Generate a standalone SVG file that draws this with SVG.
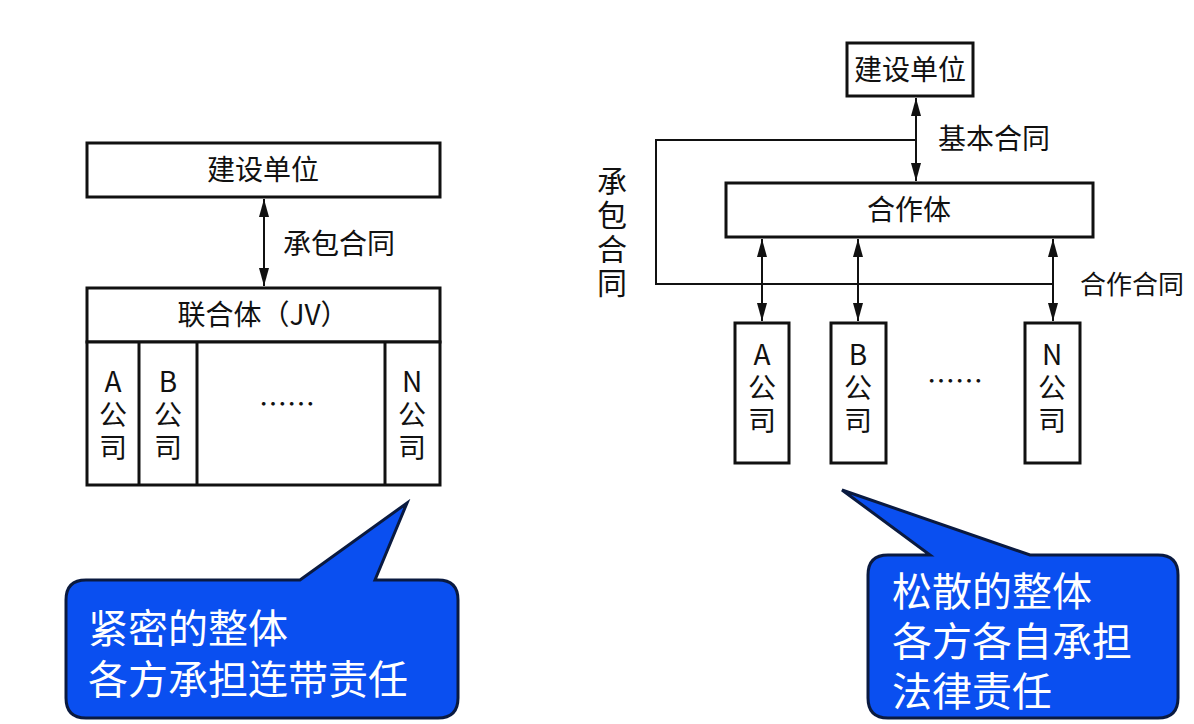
<svg xmlns="http://www.w3.org/2000/svg" width="1194" height="724" viewBox="0 0 1194 724">
<style>
.b{fill:#fff;stroke:#111;stroke-width:3}
.l{fill:none;stroke:#111;stroke-width:2}
.h{fill:#111}
text{font-family:"Noto Sans CJK SC","Liberation Sans",sans-serif;fill:#111}
.t{font-size:28px}
.c{fill:#fff;font-size:40px}
.co{fill:#0a4ff0;stroke:#0a1a40;stroke-width:3}
</style>
<defs>
<path id="up" class="h" d="M0,0L-5,18L5,18z"/>
<path id="dn" class="h" d="M0,0L-5,-18L5,-18z"/>
</defs>
<rect width="1194" height="724" fill="#fff"/>
<g id="connectors">
<line class="l" x1="264" y1="199" x2="264" y2="286"/>
<use href="#up" x="264" y="199"/><use href="#dn" x="264" y="286"/>
<line class="l" x1="916" y1="98" x2="916" y2="181"/>
<use href="#up" x="916" y="98"/><use href="#dn" x="916" y="181"/>
<polyline class="l" points="916,140 656,140 656,284 1053,284"/>
<line class="l" x1="762" y1="239" x2="762" y2="321"/>
<use href="#up" x="762" y="239"/><use href="#dn" x="762" y="321"/>
<line class="l" x1="858" y1="239" x2="858" y2="321"/>
<use href="#up" x="858" y="239"/><use href="#dn" x="858" y="321"/>
<line class="l" x1="1053" y1="239" x2="1053" y2="321"/>
<use href="#up" x="1053" y="239"/><use href="#dn" x="1053" y="321"/>
<text class="t" x="283" y="254">承包合同</text>
<text class="t" x="938" y="149">基本合同</text>
<text class="t" x="1080" y="294" style="font-size:26px">合作合同</text>
<text x="612" y="166" style="font-size:30px;writing-mode:vertical-rl;letter-spacing:4px" text-anchor="start">承包合同</text>
</g>
<g id="left-owner"><rect class="b" x="87" y="143" width="353" height="54"/><text class="t" x="263" y="180" text-anchor="middle">建设单位</text></g>
<g id="jv"><rect class="b" x="87" y="288" width="353" height="54"/><text class="t" x="263" y="325" text-anchor="middle">联合体（JV）</text>
<rect class="b" x="87" y="342" width="353" height="143"/>
<line class="l" x1="139" y1="342" x2="139" y2="485" style="stroke-width:3"/>
<line class="l" x1="197" y1="342" x2="197" y2="485" style="stroke-width:3"/>
<line class="l" x1="385" y1="342" x2="385" y2="485" style="stroke-width:3"/>
<text class="t" x="113" y="392" text-anchor="middle">A</text><text class="t" x="113" y="425" text-anchor="middle">公</text><text class="t" x="113" y="458" text-anchor="middle">司</text>
<text class="t" x="168" y="392" text-anchor="middle">B</text><text class="t" x="168" y="425" text-anchor="middle">公</text><text class="t" x="168" y="458" text-anchor="middle">司</text>
<text class="t" x="287" y="415" text-anchor="middle">……</text>
<text class="t" x="412" y="392" text-anchor="middle">N</text><text class="t" x="412" y="425" text-anchor="middle">公</text><text class="t" x="412" y="458" text-anchor="middle">司</text>
</g>
<g id="right-owner"><rect class="b" x="847" y="43" width="126" height="53"/><text class="t" x="910" y="80" text-anchor="middle">建设单位</text></g>
<g id="coop"><rect class="b" x="726" y="183" width="367" height="54"/><text class="t" x="909" y="220" text-anchor="middle">合作体</text></g>
<g id="compA"><rect class="b" x="735" y="323" width="54" height="140"/><text class="t" x="762" y="365" text-anchor="middle">A</text><text class="t" x="762" y="398" text-anchor="middle">公</text><text class="t" x="762" y="431" text-anchor="middle">司</text></g>
<g id="compB"><rect class="b" x="831" y="323" width="55" height="140"/><text class="t" x="858" y="365" text-anchor="middle">B</text><text class="t" x="858" y="398" text-anchor="middle">公</text><text class="t" x="858" y="431" text-anchor="middle">司</text></g>
<text class="t" x="955" y="392" text-anchor="middle">……</text>
<g id="compN"><rect class="b" x="1025" y="323" width="55" height="140"/><text class="t" x="1052" y="365" text-anchor="middle">N</text><text class="t" x="1052" y="398" text-anchor="middle">公</text><text class="t" x="1052" y="431" text-anchor="middle">司</text></g>
<g id="callout1">
<path class="co" d="M86,580 L300,580 L407,503 L375,580 L438,580 Q458,580 458,600 L458,698 Q458,718 438,718 L86,718 Q66,718 66,698 L66,600 Q66,580 86,580Z"/>
<text class="c" x="88" y="643">紧密的整体</text>
<text class="c" x="88" y="694">各方承担连带责任</text>
</g>
<g id="callout2">
<path class="co" d="M888,555 L930,555 L842,490 L1030,555 L1158,555 Q1178,555 1178,575 L1178,698 Q1178,718 1158,718 L888,718 Q868,718 868,698 L868,575 Q868,555 888,555Z"/>
<text class="c" x="892" y="606">松散的整体</text>
<text class="c" x="892" y="656">各方各自承担</text>
<text class="c" x="892" y="706">法律责任</text>
</g>
</svg>
